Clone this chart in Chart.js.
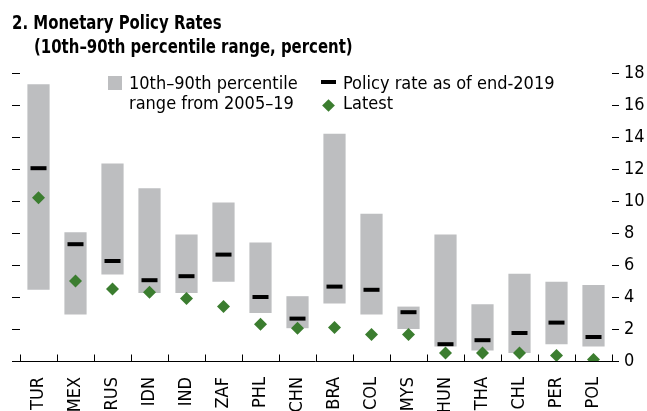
<!DOCTYPE html>
<html>
<head>
<meta charset="utf-8">
<script src="https://cdn.jsdelivr.net/npm/chart.js@4.4.1/dist/chart.umd.min.js"></script>
<style>
  body { margin: 0; background: #fff; }
  #wrap { position: relative; width: 647px; height: 411px; font-family: "Liberation Sans Narrow", "DejaVu Sans Condensed", sans-serif; color: #000; }
  #c { position: absolute; left: 0; top: 0; }
  .ttl { position: absolute; font-weight: bold; font-size: 20px; line-height: 24px; white-space: nowrap; transform: scaleX(0.83); transform-origin: 0 0; }
  .lg { position: absolute; font-size: 18px; line-height: 20px; white-space: nowrap; }
  .sw { position: absolute; }
</style>
</head>
<body>
<div id="wrap">
  <canvas id="c" width="647" height="411"></canvas>
  <div class="ttl" style="left:12px; top:10px;">2. Monetary Policy Rates</div>
  <div class="ttl" style="left:34px; top:34px;">(10th–90th percentile range, percent)</div>

  <div class="sw" style="left:108px; top:76px; width:14px; height:14px; background:#bdbec0;"></div>
  <div class="lg" style="left:129px; top:73px;">10th–90th percentile<br>range from 2005–19</div>

  <div class="sw" style="left:321px; top:80px; width:15px; height:4px; background:#000;"></div>
  <div class="lg" style="left:343px; top:73px;">Policy rate as of end-2019</div>
  <div class="sw" style="left:324px; top:101px; width:9px; height:9px; background:#3b7d2f; transform:rotate(45deg);"></div>
  <div class="lg" style="left:343px; top:93px;">Latest</div>
</div>

<script>
// données
const countries = ['TUR', 'MEX', 'RUS', 'IDN', 'IND', 'ZAF', 'PHL', 'CHN', 'BRA', 'COL', 'MYS', 'HUN', 'THA', 'CHL', 'PER', 'POL'];
const p10 = [4.45, 2.9, 5.4, 4.25, 4.25, 4.95, 3.0, 2.05, 3.6, 2.9, 2.0, 0.9, 0.65, 0.5, 1.05, 0.9];
const p90 = [17.3, 8.05, 12.35, 10.8, 7.9, 9.9, 7.4, 4.05, 14.2, 9.2, 3.4, 7.9, 3.55, 5.45, 4.95, 4.75];
const end2019 = [12.05, 7.3, 6.25, 5.05, 5.3, 6.65, 4.0, 2.65, 4.65, 4.45, 3.05, 1.05, 1.3, 1.75, 2.4, 1.5];
const latest = [10.2, 5.0, 4.5, 4.3, 3.9, 3.4, 2.3, 2.05, 2.1, 1.65, 1.65, 0.5, 0.5, 0.5, 0.35, 0.1];
const yTicks = [0, 2, 4, 6, 8, 10, 12, 14, 16, 18];

Chart.defaults.font.family = '"Liberation Sans Narrow", "DejaVu Sans Condensed", sans-serif';
Chart.defaults.color = '#000';

// axe du bas + petites graduations vers le haut
const axisDecor = {
  id: 'axisDecor',
  beforeDatasetsDraw(chart) {
    const ctx = chart.ctx;
    const area = chart.chartArea;
    const x = chart.scales.x;
    const y0 = Math.round(chart.scales.yR.getPixelForValue(0)) + 0.5;
    const step = x.getPixelForValue(1) - x.getPixelForValue(0);
    ctx.save();
    ctx.strokeStyle = '#000';
    ctx.lineWidth = 1;
    ctx.beginPath();
    ctx.moveTo(area.left - 8, y0);
    ctx.lineTo(area.right + 7, y0);
    for (let i = 0; i <= countries.length; i++) {
      const px = Math.round(x.getPixelForValue(0) - step / 2 + i * step) + 0.5;
      ctx.moveTo(px, y0);
      ctx.lineTo(px, y0 - 7);
    }
    ctx.stroke();
    ctx.restore();
  }
};

new Chart(document.getElementById('c'), {
  type: 'bar',
  data: {
    labels: countries,
    datasets: [
      {
        type: 'line',
        label: 'Latest',
        data: latest,
        showLine: false,
        pointStyle: 'rectRot',
        pointRadius: 6.5,
        pointBackgroundColor: '#3b7d2f',
        pointBorderColor: '#3b7d2f',
        pointBorderWidth: 0,
        yAxisID: 'yR',
        order: 0
      },
      {
        type: 'line',
        label: 'Policy rate as of end-2019',
        data: end2019,
        showLine: false,
        pointStyle: 'line',
        pointRadius: 8,
        pointBorderColor: '#000',
        pointBorderWidth: 4,
        yAxisID: 'yR',
        order: 1
      },
      {
        label: '10th–90th percentile range from 2005–19',
        data: countries.map((c, i) => [p10[i], p90[i]]),
        backgroundColor: '#bdbec0',
        borderWidth: 0,
        categoryPercentage: 1,
        barPercentage: 0.6,
        yAxisID: 'yR',
        order: 2
      }
    ]
  },
  options: {
    responsive: false,
    animation: false,
    devicePixelRatio: 1,
    layout: { padding: { left: 12, top: 73, right: 0, bottom: 0 } },
    plugins: { legend: { display: false }, tooltip: { enabled: false } },
    scales: {
      x: {
        offset: true,
        grid: { display: false, drawTicks: false },
        border: { display: false },
        ticks: { autoSkip: false, minRotation: 90, maxRotation: 90, padding: 16, font: { size: 18 } },
        afterFit(s) { s.height = 50; }
      },
      yL: {
        position: 'left',
        min: 0, max: 18,
        afterBuildTicks(s) { s.ticks = yTicks.map(v => ({ value: v })); },
        grid: { drawOnChartArea: false, tickLength: 8, color: '#000' },
        border: { display: false },
        ticks: { display: false },
        afterFit(s) { s.width = 8; }
      },
      yR: {
        position: 'right',
        min: 0, max: 18,
        afterBuildTicks(s) { s.ticks = yTicks.map(v => ({ value: v })); },
        grid: { drawOnChartArea: false, tickLength: 7, color: '#000' },
        border: { display: false },
        ticks: { padding: 5, font: { size: 18 } },
        afterFit(s) { s.width = 35; }
      }
    }
  },
  plugins: [axisDecor]
});
</script>
</body>
</html>
